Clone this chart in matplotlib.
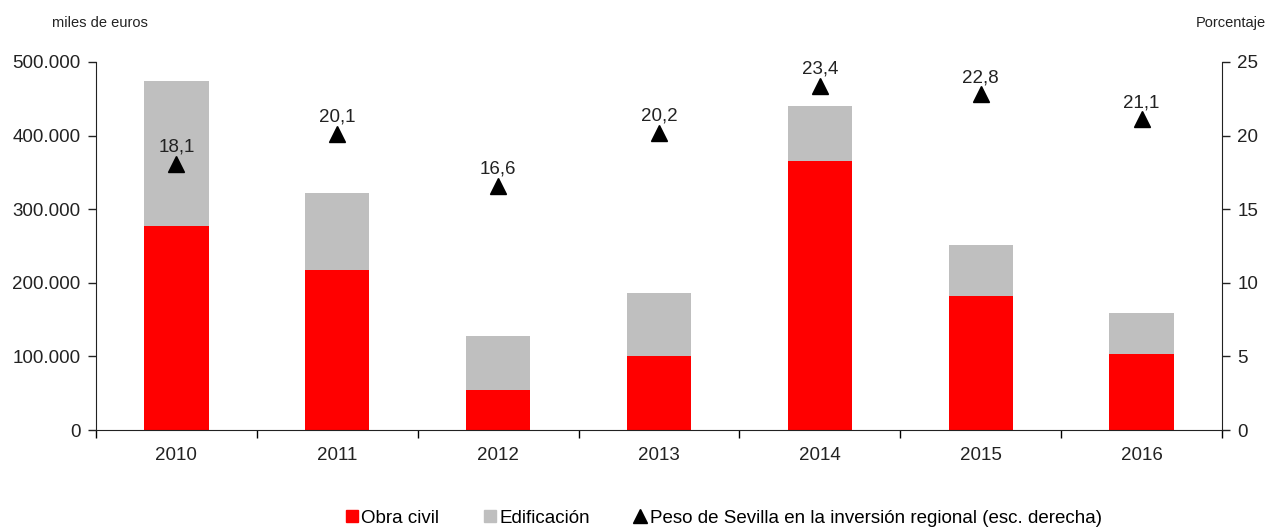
import matplotlib
matplotlib.use('Agg')
import matplotlib.pyplot as plt
from matplotlib.lines import Line2D
from matplotlib.ticker import FuncFormatter, FixedLocator
import numpy as np

plt.rcParams['font.family'] = ['Liberation Sans', 'DejaVu Sans']

years = ['2010', '2011', '2012', '2013', '2014', '2015', '2016']
obra_civil = [277000, 217000, 54000, 100000, 365000, 182000, 103000]
edificacion = [197000, 105000, 74000, 86000, 75000, 69000, 56000]
peso_sevilla = [18.1, 20.1, 16.6, 20.2, 23.4, 22.8, 21.1]

red = '#ff0000'
grey = '#bfbfbf'
txt = '#222222'

fig = plt.figure(figsize=(12.68, 5.28), dpi=100)
ax = fig.add_axes([0.0757, 0.1856, 0.888, 0.697])
x = np.arange(len(years))

ax.bar(x, obra_civil, width=0.4, color=red, zorder=2)
ax.bar(x, edificacion, width=0.4, bottom=obra_civil, color=grey, zorder=2)

ax.set_xlim(-0.5, len(years) - 0.5)
ax.set_ylim(0, 500000)
ax.set_yticks(np.arange(0, 500001, 100000))
ax.yaxis.set_major_formatter(FuncFormatter(lambda v, p: '{:,.0f}'.format(v).replace(',', '.')))
ax.set_xticks(x)
ax.set_xticklabels(years)
ax.xaxis.set_minor_locator(FixedLocator(np.arange(-0.5, len(years), 1)))
ax.tick_params(axis='x', which='major', length=0, pad=12, labelsize=13.5, colors=txt)
ax.tick_params(axis='x', which='minor', length=6, width=1, direction='out')
ax.tick_params(axis='y', length=6, width=1, direction='out', labelsize=13.5, pad=5, colors=txt)
for s in ['top', 'right']:
    ax.spines[s].set_visible(False)
for s in ['left', 'bottom']:
    ax.spines[s].set_color(txt)

ax2 = ax.twinx()
ax2.set_ylim(0, 25)
ax2.set_yticks(np.arange(0, 26, 5))
ax2.plot(x, peso_sevilla, linestyle='none', marker='^', color='black', markersize=11, zorder=3)
for xi, v in zip(x, peso_sevilla):
    ax2.annotate('{:.1f}'.format(v).replace('.', ','), (xi, v), xytext=(0, 6),
                 textcoords='offset points', ha='center', va='bottom', fontsize=13.5, color=txt)
ax2.tick_params(axis='y', length=6, width=1, direction='out', labelsize=13.5, pad=5, colors=txt)
for s in ['top', 'left', 'bottom']:
    ax2.spines[s].set_visible(False)
ax2.spines['right'].set_color(txt)

fig.text(0.079, 0.957, 'miles de euros', fontsize=10.5, ha='center', va='center', color=txt)
fig.text(0.9985, 0.957, 'Porcentaje', fontsize=10.5, ha='right', va='center', color=txt)

handles = [
    Line2D([], [], linestyle='none', marker='s', color=red, markersize=9),
    Line2D([], [], linestyle='none', marker='s', color=grey, markersize=9),
    Line2D([], [], linestyle='none', marker='^', color='black', markersize=10),
]
labels = ['Obra civil', 'Edificación', 'Peso de Sevilla en la inversión regional (esc. derecha)']
fig.legend(handles, labels, loc='center', bbox_to_anchor=(0.571, 0.019), ncol=3, frameon=False,
           fontsize=13.5, handlelength=0.6, handletextpad=0.2, columnspacing=2.4)

fig.savefig('out.png', dpi=100)
